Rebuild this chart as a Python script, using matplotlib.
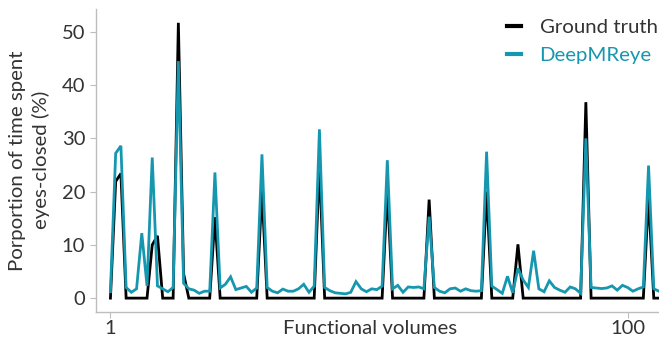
import numpy as np
import matplotlib
matplotlib.use("Agg")
import matplotlib.pyplot as plt

# Data (functional volume index 1..106)
volumes = list(range(1, 107))

ground_truth = [
    0, 21.9, 23.4, 0, 0, 0, 0, 0, 10.0, 11.7,
    0, 0, 0, 51.7, 4.6, 0, 0, 0, 0, 0,
    15.2, 0, 0, 0, 0, 0, 0, 0, 0, 20.2,
    0, 0, 0, 0, 0, 0, 0, 0, 0, 0,
    25.0, 0, 0, 0, 0, 0, 0, 0, 0, 0,
    0, 0, 0, 20.3, 0, 0, 0, 0, 0, 0,
    0, 18.5, 0, 0, 0, 0, 0, 0, 0, 0,
    0, 0, 20.0, 0, 0, 0, 0, 0, 10.1, 0,
    0, 0, 0, 0, 0, 0, 0, 0, 0, 0,
    0, 36.8, 0, 0, 0, 0, 0, 0, 0, 0,
    0, 0, 0, 19.0, 0, 0,
]

deepmreye = [
    1.2, 27.2, 28.6, 2.0, 1.1, 1.75, 12.2, 2.3, 26.4, 2.3,
    1.75, 1.2, 2.0, 44.5, 2.8, 1.75, 1.5, 0.9, 1.3, 1.3,
    23.6, 1.9, 2.6, 4.0, 1.6, 1.9, 2.2, 1.1, 1.9, 27.0,
    2.0, 1.3, 1.0, 1.7, 1.3, 1.3, 1.75, 2.6, 1.1, 2.25,
    31.7, 2.0, 1.4, 1.0, 0.9, 0.8, 1.1, 3.1, 1.75, 1.2,
    1.75, 1.6, 2.25, 25.9, 1.75, 2.4, 1.1, 2.1, 2.0, 2.1,
    1.75, 15.3, 2.0, 1.3, 1.0, 1.75, 1.9, 1.3, 1.75, 1.4,
    1.3, 1.4, 27.5, 2.25, 1.6, 0.9, 4.1, 1.0, 5.6, 3.4,
    2.0, 8.9, 1.75, 1.2, 3.25, 2.0, 1.5, 1.1, 2.1, 1.75,
    0.9, 30.0, 2.0, 1.9, 1.8, 1.9, 2.3, 1.5, 2.4, 2.0,
    1.3, 1.75, 2.1, 24.9, 1.75, 1.3,
]

x_ticks = [1, 100]
y_ticks = [0, 10, 20, 30, 40, 50]

TEAL = "#1697b0"
TEXT = "#333333"
SPINE = "#bdbdbd"

plt.rcParams["font.family"] = ["Lato", "DejaVu Sans"]

fig = plt.figure(figsize=(6.59, 3.45), dpi=100)
ax = fig.add_axes([0.145, 0.0965, 0.855, 0.8775])

ax.plot(volumes, ground_truth, color="black", lw=2.0, label="Ground truth",
        solid_joinstyle="miter")
ax.plot(volumes, deepmreye, color=TEAL, lw=2.0, label="DeepMReye",
        solid_joinstyle="miter")

ax.set_xlim(-1.85, 106)
ax.set_ylim(-2.55, 54.3)
ax.set_xticks(x_ticks)
ax.set_yticks(y_ticks)
ax.tick_params(axis="both", colors=SPINE, labelcolor=TEXT, labelsize=14.5,
               length=4, width=0.8)
ax.tick_params(axis="x", pad=2)

for s in ["top", "right"]:
    ax.spines[s].set_visible(False)
for s in ["left", "bottom"]:
    ax.spines[s].set_color(SPINE)
    ax.spines[s].set_linewidth(1.0)

ax.set_xlabel("Functional volumes", fontsize=14.7, color=TEXT, va="center")
ax.xaxis.set_label_coords(0.487, -0.054)
ax.set_ylabel("Porportion of time spent\neyes-closed (%)", fontsize=14.7,
              color=TEXT, linespacing=1.4, va="center")
ax.yaxis.set_label_coords(-0.118, 0.5)

leg = ax.legend(loc="upper right", frameon=False, fontsize=14.7,
                handlelength=0.7, handletextpad=0.9, borderaxespad=0.0,
                labelspacing=0.55, bbox_to_anchor=(1.012, 0.995))
for line in leg.get_lines():
    line.set_linewidth(3)
leg.get_texts()[0].set_color(TEXT)
leg.get_texts()[1].set_color(TEAL)

fig.savefig("out.png", dpi=100)
